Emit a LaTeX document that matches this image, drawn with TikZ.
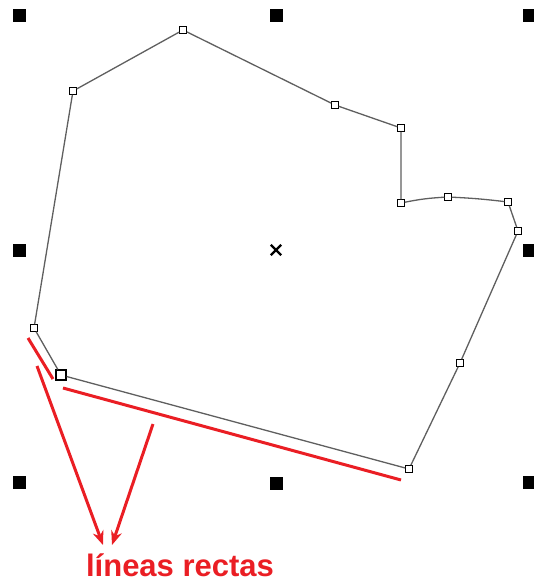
\documentclass[tikz,border=0pt]{standalone}
\usepackage{fontspec}
\setmainfont{Liberation Sans}
\usetikzlibrary{arrows.meta,shapes.misc}
\definecolor{redline}{RGB}{234,30,36}
\definecolor{edgegray}{RGB}{95,95,95}
\begin{document}
\begin{tikzpicture}[x=1pt,y=-1pt,
 handle/.style={rectangle,fill=black,minimum size=13pt,inner sep=0pt},
 vtx/.style={rectangle,draw=black,fill=white,minimum size=6.5pt,inner sep=0pt,line width=1pt},
 bigvtx/.style={vtx,minimum size=10pt,line width=1.3pt},
 edge/.style={draw=edgegray,line width=1.3pt},
 redl/.style={draw=redline,line width=3pt},
 redarrow/.style={redl,-{Stealth[length=14pt,width=11pt]}},
 lbl/.style={text=redline,font=\fontsize{31}{35}\selectfont\bfseries,inner sep=0pt}]
\useasboundingbox (0,0) rectangle (534,581);
% selection handles
\node[handle] (h1) at (19,15) {};
\node[handle] (h2) at (276,15) {};
\node[handle] (h3) at (529,15) {};
\node[handle] (h4) at (19,250) {};
\node[handle] (h5) at (529,250) {};
\node[handle] (h6) at (19,482) {};
\node[handle] (h7) at (276,483) {};
\node[handle] (h8) at (529,482) {};
% centre mark
\node[cross out,draw=black,line width=2.4pt,minimum size=8pt,inner sep=0pt] (ctr) at (276,250) {};
% polygon vertices
\node[vtx] (v1) at (183,30) {};
\node[vtx] (v2) at (335,105) {};
\node[vtx] (v3) at (401,128) {};
\node[vtx] (v4) at (401,203) {};
\node[vtx] (v5) at (448,197) {};
\node[vtx] (v6) at (508,202) {};
\node[vtx] (v7) at (518,231) {};
\node[vtx] (v8) at (460,363) {};
\node[vtx] (v9) at (409,469) {};
\node[bigvtx] (v10) at (61,375) {};
\node[vtx] (v11) at (34,328) {};
\node[vtx] (v12) at (73,91) {};
\draw[edge] (v1) -- (v2) -- (v3) -- (v4) (v4) to[bend left=4] (v5) (v5) to[bend left=2] (v6) (v6) -- (v7) -- (v8) -- (v9) -- (v10) -- (v11) -- (v12) -- (v1);
% red marks
\coordinate (r1a) at (28,338);
\coordinate (r1b) at (53,379);
\coordinate (r2a) at (63,388);
\coordinate (r2b) at (401,480);
\draw[redl] (r1a) -- (r1b);
\draw[redl] (r2a) -- (r2b);
\coordinate (s1) at (37,366);
\coordinate (s2) at (153,424);
\coordinate (t1) at (103,545);
\coordinate (t2) at (112,545);
\draw[redarrow] (s1) -- (t1);
\draw[redarrow] (s2) -- (t2);
\node[lbl,anchor=base] (txt) at (180,576) {líneas rectas};
\end{tikzpicture}
\end{document}
